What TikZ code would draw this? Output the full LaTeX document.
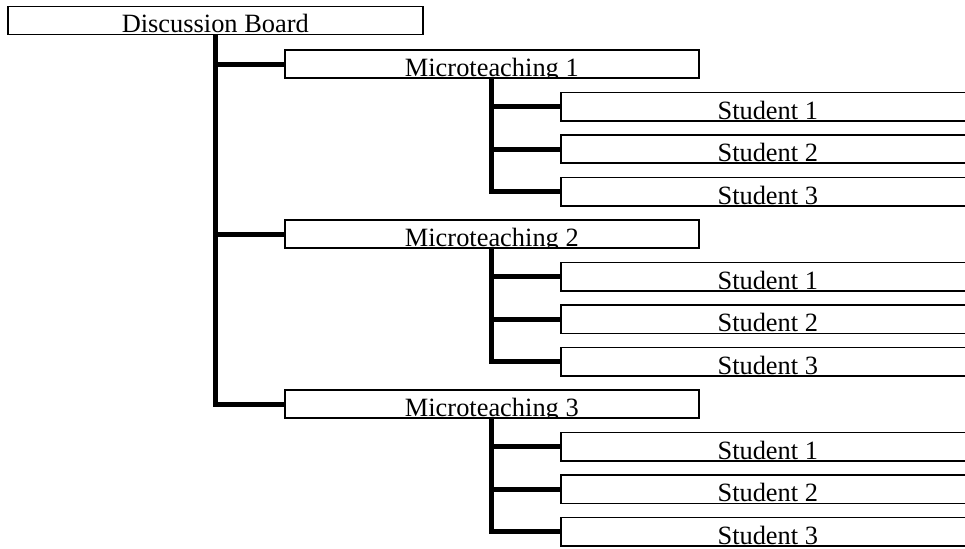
\documentclass[tikz,border=0pt]{standalone}
\usepackage{fontspec}
\setmainfont{Liberation Serif}
\newcommand\boxlabel[3]{%
  \begin{scope}
    \clip (#1.south west) rectangle (#1.north east);
    \node[lbl] (#2) at ([yshift=2.3pt]#1.south) {#3};
  \end{scope}}
\begin{document}
\begin{tikzpicture}[x=1pt,y=-1pt,
  tbox/.style={draw=black, line width=1.6pt, fill=white, inner sep=0pt,
    minimum height=28.3pt, anchor=north west},
  lbl/.style={font=\fontsize{26.4}{30}\selectfont, inner sep=0pt, anchor=base},
  conn/.style={line width=5pt, line join=miter}]
\useasboundingbox (0,0) rectangle (965,548);
\node[tbox, minimum width=415pt, minimum height=28pt] (db) at (7,5.7) {};
\boxlabel{db}{dbt}{Discussion Board}
\foreach \i in {1,2,3} {
  \pgfmathsetmacro\mt{49.3+170*(\i-1)}
  \node[tbox, minimum width=414pt, minimum height=28pt] (m\i) at (284,\mt) {};
  \boxlabel{m\i}{m\i t}{Microteaching \i}
  \foreach \j in {1,2,3} {
    \pgfmathsetmacro\st{\mt+42.4+42.5*(\j-1)}
    \node[tbox, minimum width=414pt] (s\i\j) at (560,\st) {};
    \boxlabel{s\i\j}{s\i\j t}{Student \j}
  }
  \draw[conn] (m\i.south) -- (m\i.south |- s\i3.west) -- (s\i3.west);
  \draw[conn] (m\i.south |- s\i1.west) -- (s\i1.west);
  \draw[conn] (m\i.south |- s\i2.west) -- (s\i2.west);
}
\draw[conn] (db.south) -- (db.south |- m3.west) -- (m3.west);
\draw[conn] (db.south |- m1.west) -- (m1.west);
\draw[conn] (db.south |- m2.west) -- (m2.west);
\end{tikzpicture}
\end{document}
